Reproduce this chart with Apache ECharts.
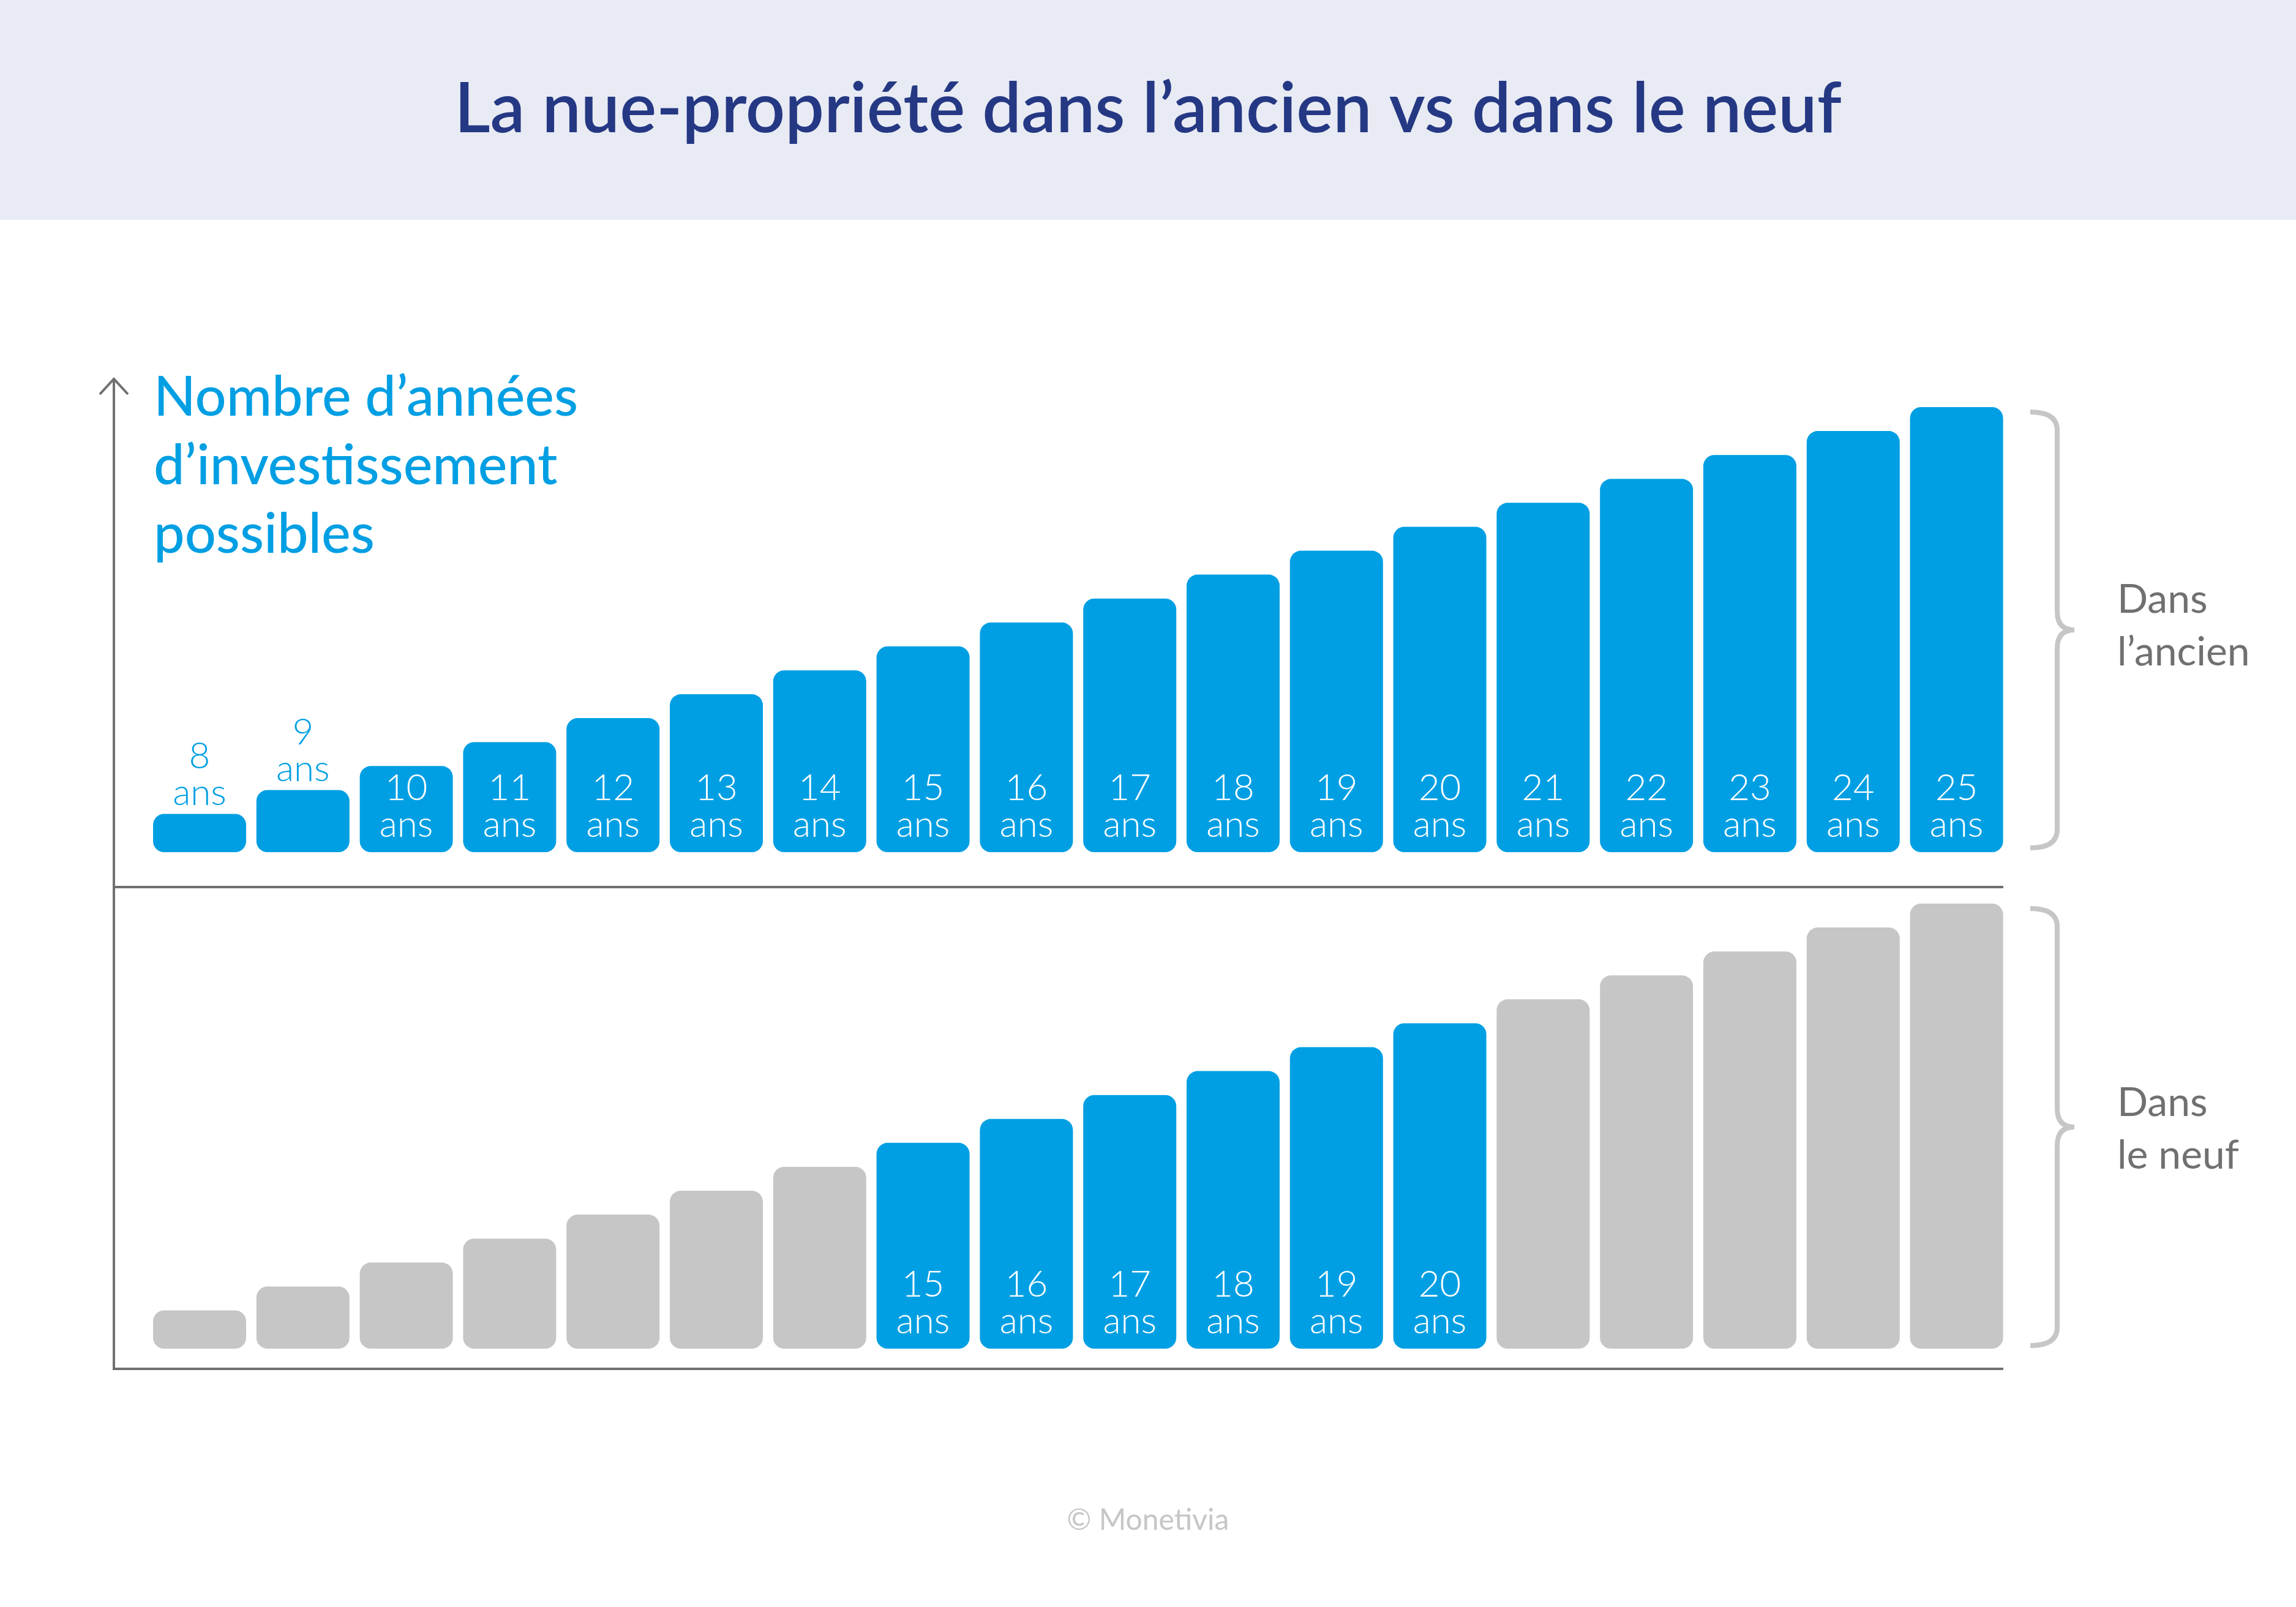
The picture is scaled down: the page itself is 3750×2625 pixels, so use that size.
<!DOCTYPE html>
<html>
<head>
<meta charset="utf-8">
<script src="https://cdn.jsdelivr.net/npm/echarts@6/dist/echarts.min.js"></script>
<style>
html,body{margin:0;padding:0;background:#fff;}
#chart{width:3750px;height:2625px;}
</style>
</head>
<body>
<div id="chart"></div>
<script>
// ---- data ----
const titleText = 'La nue-propriété dans l’ancien vs dans le neuf';
const axisTitle = 'Nombre d’années\nd’investissement\npossibles';
const categories = ['8','9','10','11','12','13','14','15','16','17','18','19','20','21','22','23','24','25'];
const ancienYears = [8, 9, 10, 11, 12, 13, 14, 15, 16, 17, 18, 19, 20, 21, 22, 23, 24, 25];
const neufYears   = [8, 9, 10, 11, 12, 13, 14, 15, 16, 17, 18, 19, 20, 21, 22, 23, 24, 25];
const neufPossible = [false, false, false, false, false, false, false, true, true, true, true, true, true, false, false, false, false, false];
const labelAboveAncien = ['8', '9'];
const groupLabels = ['Dans\nl’ancien', 'Dans\nle neuf'];
const footerText = '© Monetivia';

// ---- styles ----
const BLUE = '#009FE3';
const GRAY = '#C6C6C6';
const AXIS = '#707070';
const FONT = 'Lato, "Open Sans", sans-serif';

const chart = echarts.init(document.getElementById('chart'), null, {renderer: 'canvas'});

const ancienData = ancienYears.map((v, i) => {
  const above = labelAboveAncien.includes(categories[i]);
  return {
    value: v,
    label: above
      ? {show: true, position: 'top', distance: 4, color: BLUE}
      : {show: true, position: 'insideBottom', distance: 14, color: '#fff'}
  };
});
const neufData = neufYears.map((v, i) => ({
  value: v,
  itemStyle: {color: neufPossible[i] ? BLUE : GRAY},
  label: {show: neufPossible[i], position: 'insideBottom', distance: 14, color: '#fff'}
}));

const labelBase = {
  formatter: p => p.name + '\nans',
  fontFamily: FONT,
  fontWeight: 300,
  fontSize: 60,
  lineHeight: 60,
  align: 'center'
};

function brace(x0, yTop, yBot) {
  const yMid = (yTop + yBot) / 2;
  const xc = x0 + 44;
  const xt = x0 + 72;
  const st = {stroke: GRAY, lineWidth: 8, fill: null};
  return [
    {type: 'bezierCurve', shape: {x1: x0, y1: yTop, cpx1: xc, cpy1: yTop, x2: xc, y2: yTop + 30}, style: st},
    {type: 'line', shape: {x1: xc, y1: yTop + 30, x2: xc, y2: yMid - 30}, style: st},
    {type: 'bezierCurve', shape: {x1: xc, y1: yMid - 30, cpx1: xc, cpy1: yMid, x2: xt, y2: yMid}, style: st},
    {type: 'bezierCurve', shape: {x1: xt, y1: yMid, cpx1: xc, cpy1: yMid, x2: xc, y2: yMid + 30}, style: st},
    {type: 'line', shape: {x1: xc, y1: yMid + 30, x2: xc, y2: yBot - 30}, style: st},
    {type: 'bezierCurve', shape: {x1: xc, y1: yBot - 30, cpx1: xc, cpy1: yBot, x2: x0, y2: yBot}, style: st}
  ];
}

const option = {
  backgroundColor: '#ffffff',
  animation: false,
  grid: [
    {left: 241.6, width: 3038.4, top: 665, height: 727},
    {left: 241.6, width: 3038.4, top: 1476, height: 727}
  ],
  xAxis: [
    {type: 'category', gridIndex: 0, data: categories, show: false},
    {type: 'category', gridIndex: 1, data: categories, show: false}
  ],
  yAxis: [
    {type: 'value', gridIndex: 0, min: 6.4, max: 25, show: false},
    {type: 'value', gridIndex: 1, min: 6.4, max: 25, show: false}
  ],
  series: [
    {
      type: 'bar', xAxisIndex: 0, yAxisIndex: 0, data: ancienData,
      barWidth: 152, itemStyle: {color: BLUE, borderRadius: 18},
      label: labelBase
    },
    {
      type: 'bar', xAxisIndex: 1, yAxisIndex: 1, data: neufData,
      barWidth: 152, itemStyle: {color: GRAY, borderRadius: 18},
      label: labelBase
    }
  ],
  graphic: [
    {type: 'rect', z: -10, shape: {x: 0, y: 0, width: 3750, height: 359}, style: {fill: '#E8EBF3'}},
    {type: 'text', x: 1875, y: 180, style: {text: titleText, fill: '#253884', font: '600 113px ' + FONT, textAlign: 'center', textVerticalAlign: 'middle'}},
    {type: 'text', x: 251, y: 594, style: {text: axisTitle, fill: BLUE, font: '500 90px ' + FONT, lineHeight: 112, textAlign: 'left', textVerticalAlign: 'top'}},
    // axes
    {type: 'line', shape: {x1: 186, y1: 618, x2: 186, y2: 2238}, style: {stroke: AXIS, lineWidth: 4}},
    {type: 'polyline', shape: {points: [[163, 644], [186, 619], [209, 644]]}, style: {stroke: AXIS, lineWidth: 4, fill: null}},
    {type: 'line', shape: {x1: 184, y1: 1449, x2: 3272, y2: 1449}, style: {stroke: AXIS, lineWidth: 4}},
    {type: 'line', shape: {x1: 184, y1: 2236, x2: 3272, y2: 2236}, style: {stroke: AXIS, lineWidth: 4}},
    ...brace(3316, 673, 1385),
    ...brace(3316, 1484, 2198),
    {type: 'text', x: 3458, y: 937, style: {text: groupLabels[0], fill: AXIS, font: '400 66px ' + FONT, lineHeight: 86, textVerticalAlign: 'top'}},
    {type: 'text', x: 3458, y: 1759, style: {text: groupLabels[1], fill: AXIS, font: '400 66px ' + FONT, lineHeight: 86, textVerticalAlign: 'top'}},
    {type: 'text', x: 1875, y: 2484, style: {text: footerText, fill: GRAY, font: '400 48px ' + FONT, textAlign: 'center', textVerticalAlign: 'middle'}}
  ]
};
chart.setOption(option);
</script>
</body>
</html>
